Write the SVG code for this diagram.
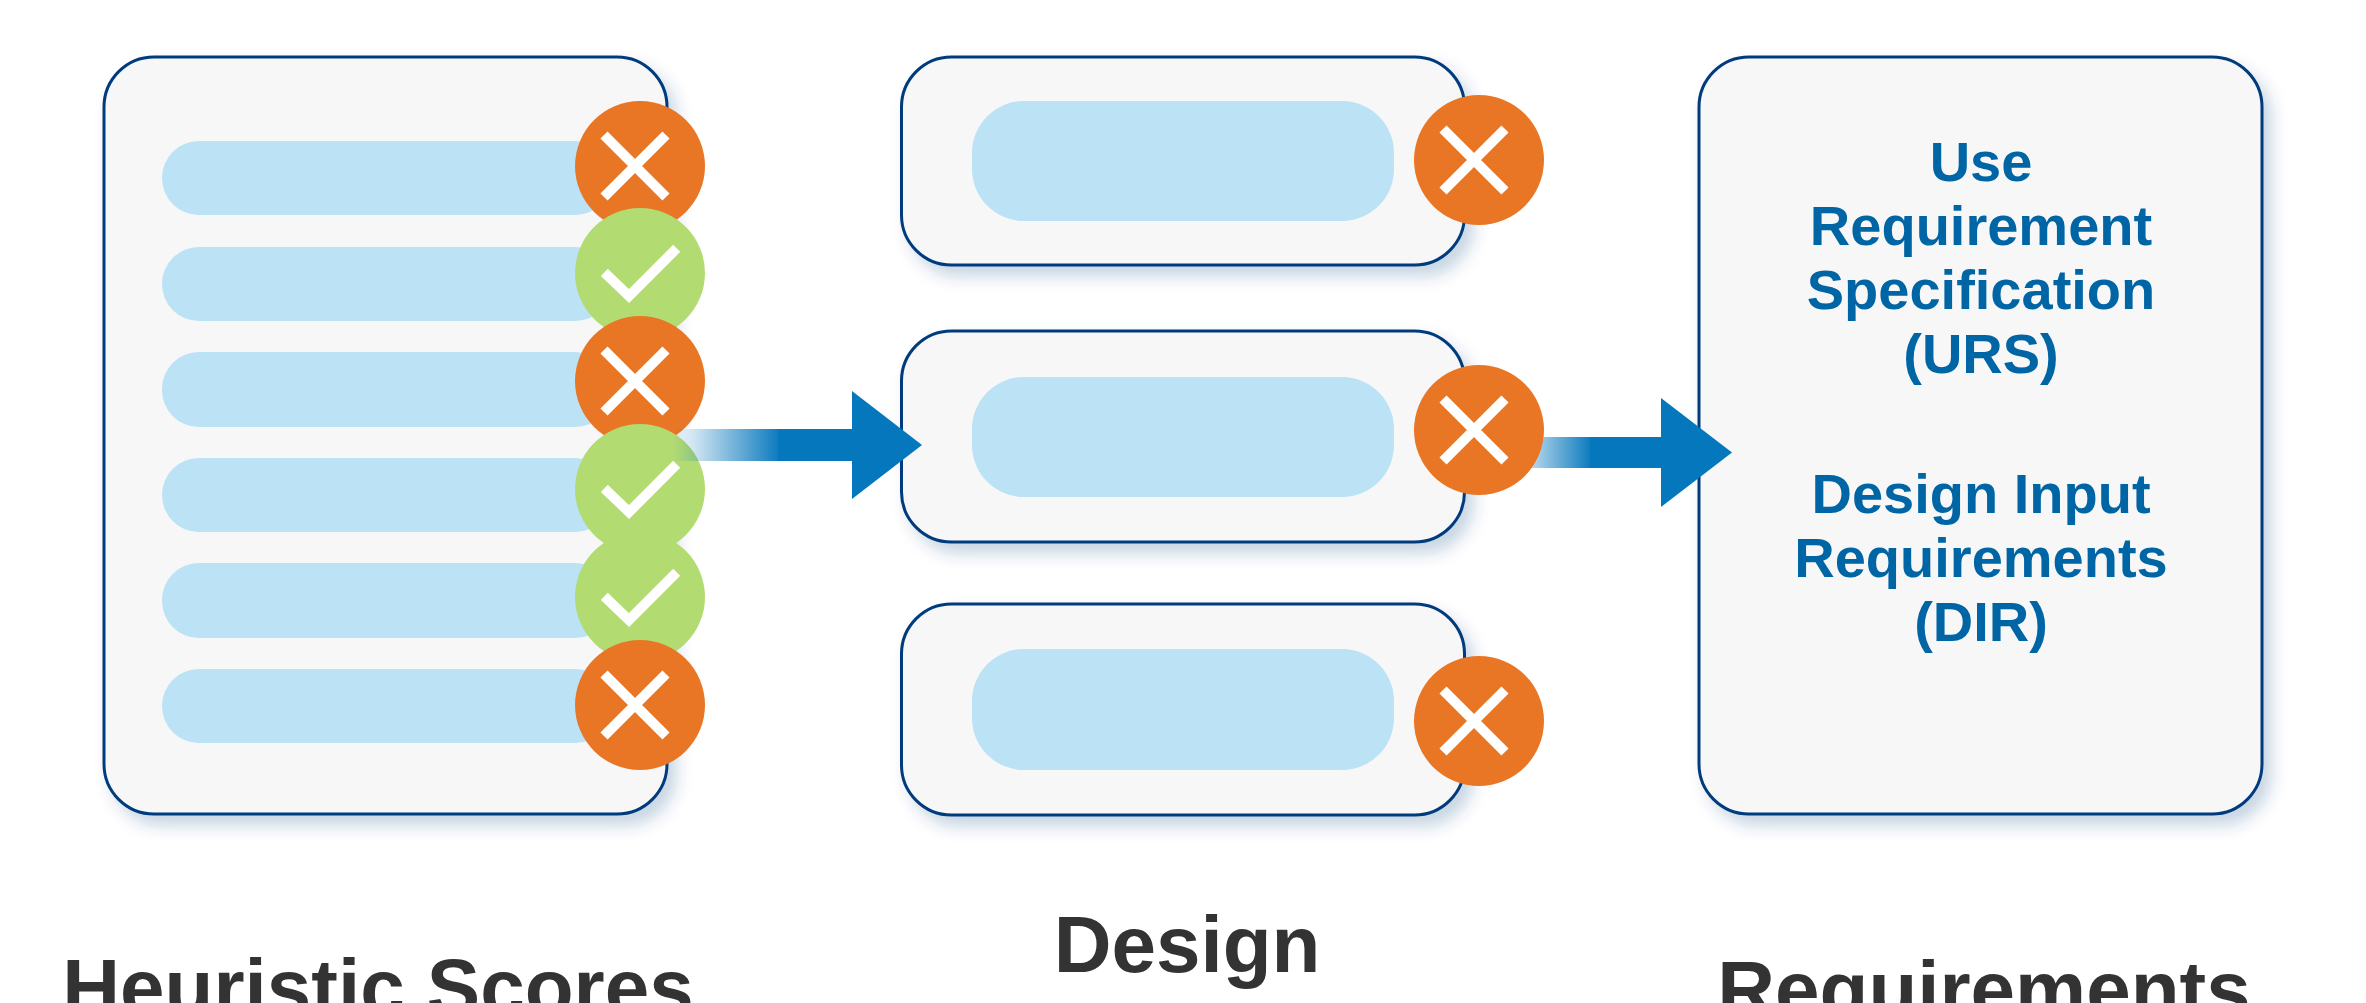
<svg xmlns="http://www.w3.org/2000/svg" width="2366" height="1003" viewBox="0 0 2366 1003">
<style>
.box{fill:#f7f7f7;stroke:#003b7e;stroke-width:3;filter:url(#sh)}
.bar{fill:#bce2f5}
.mk{fill:none;stroke:#fff;stroke-width:10}
.or{fill:#e97625}
.gr{fill:#b2db72}
.head{fill:#0577bc}
.t{font-family:"Liberation Sans",Arial,sans-serif;font-weight:700;text-anchor:middle}
.b{font-size:56px;fill:#0065a4}
.l{font-size:80px;fill:#333}
</style>
<defs>
<filter id="sh" x="-10%" y="-10%" width="125%" height="130%"><feDropShadow dx="8" dy="10" stdDeviation="8" flood-color="#16407f" flood-opacity="0.22"/></filter>
<linearGradient id="g1" gradientUnits="userSpaceOnUse" x1="673" y1="0" x2="853" y2="0"><stop offset="0" stop-color="#0577bc" stop-opacity="0"/><stop offset="0.583" stop-color="#0577bc" stop-opacity="0.96"/><stop offset="0.584" stop-color="#0577bc"/></linearGradient>
<linearGradient id="g2" gradientUnits="userSpaceOnUse" x1="1515" y1="0" x2="1662" y2="0"><stop offset="0" stop-color="#0577bc" stop-opacity="0.1"/><stop offset="0.509" stop-color="#0577bc" stop-opacity="0.96"/><stop offset="0.51" stop-color="#0577bc"/></linearGradient>
<g id="no"><circle class="or" r="65"/><path class="mk" d="M-36-31L26 31M26-31L-36 31"/></g>
<g id="yes"><circle class="gr" r="65"/><path class="mk" d="M-35.700-.7L-11 23L36.700-24.700"/></g>
</defs>
<g id="node-scores">
<rect class="box" x="104" y="57" width="563" height="757" rx="50"/>
<rect class="bar" x="162" y="141" width="450" height="74" rx="37"/>
<rect class="bar" x="162" y="247" width="450" height="74" rx="37"/>
<rect class="bar" x="162" y="352" width="450" height="75" rx="37"/>
<rect class="bar" x="162" y="458" width="450" height="74" rx="37"/>
<rect class="bar" x="162" y="563" width="450" height="75" rx="37"/>
<rect class="bar" x="162" y="669" width="450" height="74" rx="37"/>
<use href="#no" x="640" y="166"/>
<use href="#yes" x="640" y="273"/>
<use href="#no" x="640" y="381"/>
<use href="#yes" x="640" y="489"/>
<use href="#yes" x="640" y="597"/>
<use href="#no" x="640" y="705"/>
<text class="t l" x="378" y="1015">Heuristic Scores</text>
</g>
<g id="node-design-1">
<rect class="box" x="901.500" y="57" width="563" height="208" rx="50"/>
<rect class="bar" x="972" y="101" width="422" height="120" rx="52"/>
<use href="#no" x="1479" y="160"/>
</g>
<g id="node-design-2">
<rect class="box" x="901.500" y="331" width="563" height="211" rx="50"/>
<rect class="bar" x="972" y="377" width="422" height="120" rx="52"/>
<use href="#no" x="1479" y="430"/>
</g>
<g id="node-design-3">
<rect class="box" x="901.500" y="604" width="563" height="211" rx="50"/>
<rect class="bar" x="972" y="649" width="422" height="121" rx="52"/>
<use href="#no" x="1479" y="721"/>
</g>
<text class="t l" x="1187" y="972">Design</text>
<g id="node-requirements">
<rect class="box" x="1699" y="57" width="563" height="757" rx="50"/>
<text class="t b" x="1981" y="181">Use</text>
<text class="t b" x="1981" y="245">Requirement</text>
<text class="t b" x="1981" y="309">Specification</text>
<text class="t b" x="1981" y="373">(URS)</text>
<text class="t b" x="1981" y="513">Design Input</text>
<text class="t b" x="1981" y="577">Requirements</text>
<text class="t b" x="1981" y="641">(DIR)</text>
<text class="t l" x="1984" y="1017">Requirements</text>
</g>
<g id="connectors">
<path fill="url(#g1)" d="M673 429H853V461H673Z"/>
<path class="head" d="M852 391L922 445L852 499Z"/>
<path fill="url(#g2)" d="M1543.600 437H1662V468H1531.700A65 65 0 0 0 1543.600 437Z"/>
<path class="head" d="M1661 398L1732 452.500L1661 507Z"/>
</g>
</svg>
